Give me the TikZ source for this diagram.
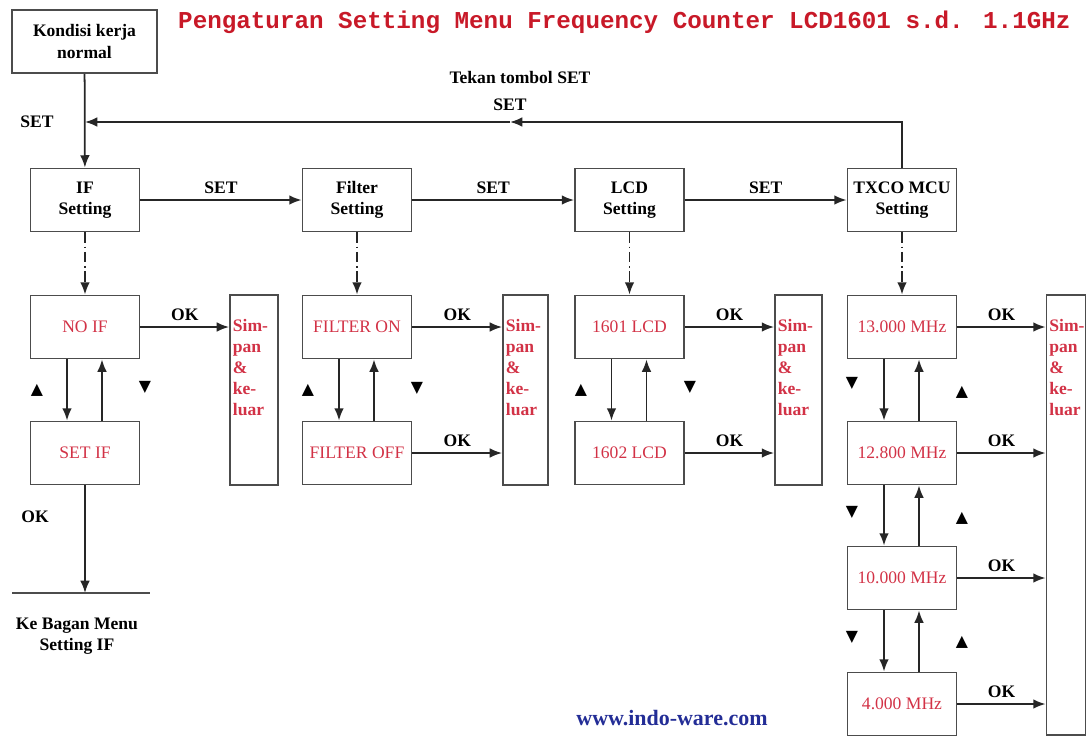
\documentclass[tikz,border=0pt]{standalone}
\usepackage{fontspec}
\setmainfont{Liberation Serif}
\newfontfamily\titlefont{Liberation Mono}
\newfontfamily\symfont{DejaVu Sans}
\usetikzlibrary{arrows.meta, positioning}
\definecolor{optred}{RGB}{210,50,70}
\definecolor{titlered}{RGB}{200,25,40}
\definecolor{urlblue}{RGB}{35,45,150}

\tikzset{
  box/.style={draw=black!70, line width=1.1pt, minimum width=2.18cm, minimum height=1.26cm, inner sep=1pt, align=center, font=\bfseries\fontsize{10}{12}\selectfont},
  opt/.style={box, text=optred, font=\fontsize{10}{12}\selectfont},
  simpan/.style={draw=black!70, line width=1.1pt, minimum height=3.8cm, inner sep=0pt},
  simpantext/.style={anchor=north west, align=left, text=optred, inner sep=0pt, font=\bfseries\fontsize{10}{12}\selectfont},
  lbl/.style={font=\bfseries\fontsize{10}{12}\selectfont},
  tri/.style={font=\symfont\fontsize{9}{10}\selectfont, inner sep=0pt},
  flow/.style={-{Latex[length=7pt,width=5.5pt]}, line width=1pt, draw=black!85},
  dashflow/.style={flow, dash pattern=on 6pt off 2pt on 1pt off 2pt},
}

\begin{document}
\begin{tikzpicture}[x=0.02cm, y=-0.02cm]
\useasboundingbox (0,0) rectangle (1088,738);

% header
\node[box, minimum width=2.9cm] (kondisi) at (84.5,41.5) {Kondisi kerja\\normal};
\node[anchor=west, text=titlered, font=\titlefont\bfseries\fontsize{13.8}{16}\selectfont] (title) at (172,22) {Pengaturan Setting Menu Frequency Counter LCD1601 s.d. 1.1GHz};
\node[lbl] (tekan) at (520,77) {Tekan tombol SET};

% setting row
\node[box] (ifset) at (85,200) {IF\\Setting};
\node[box] (filterset) at (357,200) {Filter\\Setting};
\node[box] (lcdset) at (629.5,200) {LCD\\Setting};
\node[box] (txcoset) at (902,200) {TXCO MCU\\Setting};

\draw[flow] (kondisi) -- (ifset);
\coordinate (back) at (85,122);
\coordinate (backmid) at (510,122);
\draw[flow] (txcoset.north) |- (backmid);
\draw[flow] (backmid) -- (back);
\node[lbl] (setback) at (510,105) {SET};
\node[lbl] (setleft) at (37,122) {SET};

\foreach \a/\b in {ifset/filterset, filterset/lcdset, lcdset/txcoset}
    \draw[flow] (\a) -- node[lbl, above] {SET} (\b);

% option boxes
\node[opt] (noif) at (85,327) {NO IF};
\node[opt] (setif) at (85,453) {SET IF};
\node[simpan, minimum width=0.96cm] (simpanif) at (254,390) {};

\node[opt] (filteron) at (357,327) {FILTER ON};
\node[opt] (filteroff) at (357,453) {FILTER OFF};
\node[simpan, minimum width=0.9cm] (simpanfilter) at (525.5,390) {};

\node[opt] (lcda) at (629.5,327) {1601 LCD};
\node[opt] (lcdb) at (629.5,453) {1602 LCD};
\node[simpan, minimum width=0.94cm] (simpanlcd) at (798.5,390) {};

\node[opt] (mhza) at (902,327) {13.000 MHz};
\node[opt] (mhzb) at (902,453) {12.800 MHz};
\node[opt] (mhzc) at (902,578) {10.000 MHz};
\node[opt] (mhzd) at (902,704) {4.000 MHz};
\node[simpan, minimum width=0.78cm, minimum height=8.8cm] (simpantxco) at (1066,515) {};

\foreach \s in {simpanif, simpanfilter, simpanlcd, simpantxco}
    \node[simpantext] (\s text) at ([xshift=2pt,yshift=-14pt]\s.north west) {Sim-\\pan\\\&\\ke-\\luar};

% connectors
\foreach \a/\b in {ifset/noif, filterset/filteron, lcdset/lcda, txcoset/mhza}
    \draw[dashflow] (\a) -- (\b);

\foreach \u/\l in {noif/setif, filteron/filteroff, lcda/lcdb, mhza/mhzb, mhzb/mhzc, mhzc/mhzd} {
    \draw[flow] ([xshift=-0.36cm]\u.south) -- ([xshift=-0.36cm]\l.north);
    \draw[flow] ([xshift=0.34cm]\l.north) -- ([xshift=0.34cm]\u.south);
}

\foreach \o/\s in {noif/simpanif, filteron/simpanfilter, filteroff/simpanfilter, lcda/simpanlcd, lcdb/simpanlcd, mhza/simpantxco, mhzb/simpantxco, mhzc/simpantxco, mhzd/simpantxco}
    \draw[flow] (\o.east) -- node[lbl, above] {OK} (\o.east -| \s.west);

\foreach \x/\y in {37/390, 308/390, 581/390, 962/392, 962/518, 962/642}
    \node[tri] (up-\x-\y) at (\x,\y) {▲};
\foreach \x/\y in {145/387, 417/388, 690/387, 852/383, 852/512, 852/637}
    \node[tri] (down-\x-\y) at (\x,\y) {▼};

% exit to IF menu
\coordinate (kebagan) at (85,593);
\draw[flow] (setif) -- (kebagan);
\draw[line width=1pt, draw=black!70] (kebagan) +(-73,0) -- +(65,0);
\node[lbl] (okif) at (35,517) {OK};
\node[lbl, align=center] (kebagantext) at (77,636) {Ke Bagan Menu\\Setting IF};

\node[text=urlblue, font=\bfseries\fontsize{12.5}{14}\selectfont] (url) at (672,718) {www.indo-ware.com};

\end{tikzpicture}
\end{document}
